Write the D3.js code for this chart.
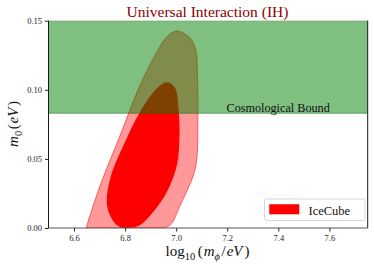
<!DOCTYPE html>
<html><head><meta charset="utf-8">
<script src="https://cdn.jsdelivr.net/npm/d3@7"></script>
<style>body{margin:0;background:#fff}svg{display:block}text{font-family:"Liberation Serif","DejaVu Serif",serif}</style>
</head><body><svg id="c" width="374" height="266"></svg>
<script>
const xTicks=[6.6,6.8,7.0,7.2,7.4,7.6];
const yTicks=[0.00,0.05,0.10,0.15];
const cosmoBound=0.083;
// outer (2-sigma) contour, data coords [log10 m_phi, m0]
const outerX=[6.943,6.977,7.016,7.068,7.081,7.085,7.083,7.078,7.055,7.003,6.964,6.925,6.859,6.781,6.703,6.651,6.648];
const outerY=[0.000,0.0022,0.0166,0.0384,0.0504,0.0745,0.1107,0.1276,0.1373,0.1425,0.1384,0.1276,0.1035,0.0673,0.0311,0.0022,0.000];
// inner (1-sigma) contour
const innerX=[6.966,6.996,7.009,7.013,7.003,6.964,6.911,6.859,6.820,6.781,6.755,6.729,6.742,6.794,6.859,6.925];
const innerY=[0.1054,0.1011,0.0866,0.0673,0.0456,0.0263,0.0118,0.0022,0.0002,0.0007,0.0046,0.0166,0.036,0.060,0.0842,0.1011];

const svg=d3.select("#c");
const L=48.5,R=367.7,T=20.7,B=228;
const x=d3.scaleLinear().domain([6.5,7.75]).range([L,R]);
const y=d3.scaleLinear().domain([0,0.15]).range([B,T]);

svg.append("clipPath").attr("id","clip").append("rect").attr("x",L).attr("y",T).attr("width",R-L).attr("height",B-T);
const g=svg.append("g").attr("clip-path","url(#clip)");

const outerPts=outerX.map((v,i)=>[x(v),y(outerY[i])]);
const innerPts=innerX.map((v,i)=>[x(v),y(innerY[i])]);
const open=d3.line().curve(d3.curveCatmullRom.alpha(0.5));
const closed=d3.line().curve(d3.curveCatmullRomClosed.alpha(0.5));
g.append("path").attr("d",open(outerPts)+"Z").attr("fill","rgb(255,153,153)").attr("stroke","rgba(255,0,0,0.55)").attr("stroke-width",1);
g.append("path").attr("d",closed(innerPts)).attr("fill","#ff0000");
// cosmological band
g.append("rect").attr("x",L).attr("y",y(0.15)).attr("width",R-L).attr("height",y(cosmoBound)-y(0.15))
 .attr("fill","green").attr("fill-opacity",0.5);
g.append("line").attr("x1",L).attr("x2",R).attr("y1",y(cosmoBound)).attr("y2",y(cosmoBound)).attr("stroke","rgba(0,110,0,0.6)").attr("stroke-width",0.8);

svg.append("text").attr("x",226.5).attr("y",111.5).attr("font-size",12.2).attr("fill","#111").text("Cosmological Bound");

// axes
const ax=svg.append("g").attr("transform",`translate(0,${B})`).call(d3.axisBottom(x).tickValues(xTicks).tickFormat(d3.format(".1f")).tickSize(3.5).tickPadding(3));
const ay=svg.append("g").attr("transform",`translate(${L},0)`).call(d3.axisLeft(y).tickValues(yTicks).tickFormat(d3.format(".2f")).tickSize(3.5).tickPadding(3));
[ax,ay].forEach(a=>{a.selectAll("text").attr("font-family","Liberation Serif, DejaVu Serif, serif").attr("font-size",8.5).attr("fill","#222");a.selectAll("line").attr("stroke","#222");a.select(".domain").remove();});
// frame
svg.append("line").attr("x1",L).attr("x2",L).attr("y1",T).attr("y2",B).attr("stroke","#000").attr("stroke-width",0.9);
svg.append("line").attr("x1",R).attr("x2",R).attr("y1",T).attr("y2",B).attr("stroke","#000").attr("stroke-width",0.9);
svg.append("line").attr("x1",L).attr("x2",R).attr("y1",B).attr("y2",B).attr("stroke","#444").attr("stroke-width",0.9);
svg.append("line").attr("x1",L).attr("x2",R).attr("y1",T).attr("y2",T).attr("stroke","#000").attr("stroke-width",0.5).attr("stroke-opacity",0.3);

// legend
const lg=svg.append("g");
lg.append("rect").attr("x",264.5).attr("y",199).attr("width",100.5).attr("height",21.5).attr("rx",2).attr("fill","#fff").attr("fill-opacity",0.85).attr("stroke","#ccc").attr("stroke-width",0.8);
lg.append("rect").attr("x",269.5).attr("y",204.5).attr("width",29.5).attr("height",9.5).attr("fill","#ff0000").attr("stroke","rgba(255,0,0,0.5)");
lg.append("text").attr("x",308.5).attr("y",214.5).attr("font-size",12.5).attr("fill","#111").text("IceCube");

// title
svg.append("text").attr("x",207.5).attr("y",17).attr("text-anchor","middle").attr("font-size",15.5).attr("fill","#8b0000").text("Universal Interaction (IH)");

// x label
const xl=svg.append("text").attr("x",207.5).attr("y",256).attr("text-anchor","middle").attr("font-size",15).attr("fill","#111");
xl.append("tspan").text("log");
xl.append("tspan").attr("font-size",10.5).attr("dy",3.5).text("10");
xl.append("tspan").attr("dy",-3.5).attr("dx",2.5).text("(");
xl.append("tspan").attr("font-style","italic").attr("dx",1).text("m");
xl.append("tspan").attr("font-style","italic").attr("font-size",10.5).attr("dy",3.5).text("ϕ");
xl.append("tspan").attr("dy",-3.5).attr("dx",1.5).text("/");
xl.append("tspan").attr("font-style","italic").attr("dx",1).text("eV");
xl.append("tspan").attr("dx",2).text(")");

// y label
const yl=svg.append("text").attr("transform","translate(18,124) rotate(-90)").attr("text-anchor","middle").attr("font-size",15).attr("fill","#111");
yl.append("tspan").attr("font-style","italic").text("m");
yl.append("tspan").attr("font-size",10.5).attr("dy",3.5).text("0");
yl.append("tspan").attr("dy",-3.5).attr("dx",1.5).text("(");
yl.append("tspan").attr("font-style","italic").attr("dx",1).text("eV");
yl.append("tspan").attr("dx",1.5).text(")");
</script></body></html>
